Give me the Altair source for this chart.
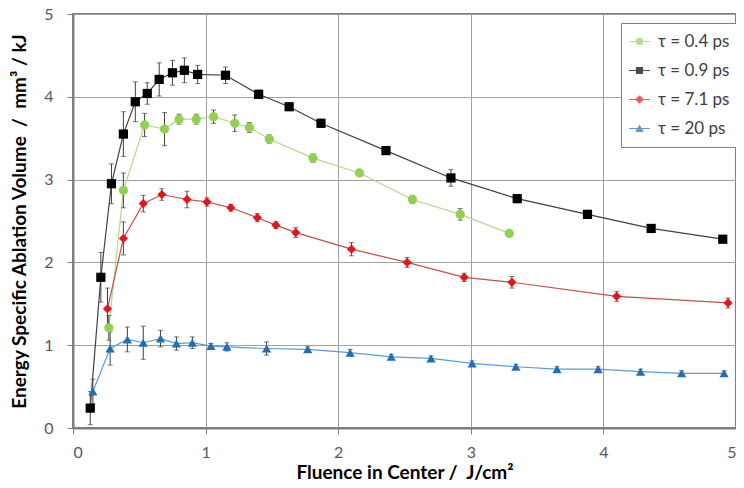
import altair as alt
import pandas as pd

# ---- data ----
series_names = ["τ = 0.4 ps", "τ = 0.9 ps", "τ = 7.1 ps", "τ = 20 ps"]

x04 = [0.27, 0.38, 0.54, 0.69, 0.80, 0.93, 1.06, 1.22, 1.33, 1.48, 1.81, 2.16, 2.56, 2.92, 3.29]
y04 = [1.21, 2.87, 3.66, 3.61, 3.73, 3.73, 3.76, 3.68, 3.63, 3.49, 3.26, 3.08, 2.76, 2.58, 2.35]
e04 = [0.15, 0.21, 0.14, 0.20, 0.06, 0.06, 0.08, 0.10, 0.06, 0.05, 0.05, 0.03, 0.05, 0.07, 0.03]

x09 = [0.13, 0.21, 0.29, 0.38, 0.47, 0.56, 0.65, 0.75, 0.84, 0.94, 1.15, 1.40, 1.63, 1.87, 2.36, 2.85, 3.35, 3.88, 4.36, 4.90]
y09 = [0.24, 1.82, 2.95, 3.55, 3.94, 4.04, 4.21, 4.29, 4.32, 4.27, 4.26, 4.03, 3.88, 3.68, 3.35, 3.02, 2.77, 2.58, 2.41, 2.28]
e09 = [0.20, 0.30, 0.24, 0.27, 0.24, 0.13, 0.20, 0.15, 0.15, 0.11, 0.10, 0.05, 0.04, 0.05, 0.03, 0.10, 0.05, 0.05, 0.03, 0.03]

x71 = [0.26, 0.38, 0.53, 0.67, 0.86, 1.01, 1.19, 1.39, 1.53, 1.68, 2.10, 2.52, 2.95, 3.31, 4.10, 4.94]
y71 = [1.44, 2.29, 2.71, 2.82, 2.76, 2.73, 2.66, 2.54, 2.45, 2.36, 2.16, 2.00, 1.82, 1.76, 1.59, 1.51]
e71 = [0.25, 0.20, 0.10, 0.07, 0.10, 0.05, 0.04, 0.05, 0.04, 0.06, 0.08, 0.06, 0.05, 0.07, 0.06, 0.06]

x20 = [0.15, 0.28, 0.41, 0.53, 0.66, 0.78, 0.90, 1.04, 1.16, 1.46, 1.77, 2.09, 2.40, 2.70, 3.01, 3.34, 3.65, 3.96, 4.28, 4.59, 4.91]
y20 = [0.44, 0.96, 1.07, 1.03, 1.08, 1.02, 1.03, 0.99, 0.98, 0.96, 0.95, 0.91, 0.86, 0.84, 0.78, 0.74, 0.71, 0.71, 0.68, 0.66, 0.66]
e20 = [0.15, 0.20, 0.15, 0.20, 0.10, 0.08, 0.07, 0.03, 0.05, 0.08, 0.03, 0.04, 0.03, 0.03, 0.03, 0.03, 0.03, 0.03, 0.03, 0.03, 0.03]

x_ticks = [0, 1, 2, 3, 4, 5]
y_ticks = [0, 1, 2, 3, 4, 5]

x_title = "Fluence in Center /\u00a0\u00a0J/cm²"
y_title = "Energy Specific Ablation Volume \u00a0/\u00a0\u00a0mm³ / kJ"

# ---- styling ----
marker_colors = ["#92d050", "#000000", "#e3161b", "#1f6fb2"]
line_colors = ["#b4d88f", "#404040", "#c0504d", "#5b9bd5"]
shapes = ["circle", "square", "diamond", "triangle-up"]
legend_paths = [
    "M-2.2,-0.13H-0.8V0.13H-2.2Z M0.8,-0.13H2.2V0.13H0.8Z M0.8,0A0.8,0.8,0,1,1,-0.8,0A0.8,0.8,0,1,1,0.8,0Z",
    "M-2.2,-0.13H2.2V0.13H-2.2Z M-0.75,-0.75H0.75V0.75H-0.75Z",
    "M-2.2,-0.13H2.2V0.13H-2.2Z M0,-0.9L0.9,0L0,0.9L-0.9,0Z",
    "M-2.2,-0.13H2.2V0.13H-2.2Z M0,-0.85L0.9,0.72L-0.9,0.72Z",
]

rows = []
for name, xs, ys, es in zip(series_names, [x04, x09, x71, x20], [y04, y09, y71, y20], [e04, e09, e71, e20]):
    for x, y, e in zip(xs, ys, es):
        rows.append({"series": name, "x": x, "y": y, "lo": y - e, "hi": y + e})
df = pd.DataFrame(rows)

FONT = "Lato"
xs = alt.Scale(domain=[0, 5], nice=False, zero=False)
ys = alt.Scale(domain=[0, 5], nice=False)

X = alt.X("x:Q", scale=xs, axis=alt.Axis(values=x_ticks, title=x_title,
                                          format="d", labelPadding=10, titleY=35, titleBaseline="top"))
Y = alt.Y("y:Q", scale=ys, axis=alt.Axis(values=y_ticks, title=y_title,
                                          format="d", labelPadding=14, titleX=-44, titleBaseline="bottom"))

base = alt.Chart(df)

line_layers = []
point_layers = []
for name, mcol, lcol, shp in zip(series_names, marker_colors, line_colors, shapes):
    sub = base.transform_filter(alt.datum.series == name)
    line_layers.append(
        sub.mark_line(strokeWidth=1.2, color=lcol).encode(x=X, y=Y)
    )
    point_layers.append(
        sub.mark_point(filled=True, size=85, opacity=1, shape=shp, color=mcol)
        .encode(x="x:Q", y="y:Q")
    )

bars = base.mark_rule(color="#404040", strokeWidth=1).encode(
    x="x:Q", y="lo:Q", y2="hi:Q"
)
caps_lo = base.mark_tick(orient="horizontal", color="#404040", size=5, thickness=1).encode(x="x:Q", y="lo:Q")
caps_hi = base.mark_tick(orient="horizontal", color="#404040", size=5, thickness=1).encode(x="x:Q", y="hi:Q")

# legend-only layer: no rows are drawn, the explicit scale domains feed the legend
legend_layer = base.transform_filter("false").mark_point(filled=True, size=90).encode(
    x="x:Q", y="y:Q",
    color=alt.Color("series:N", scale=alt.Scale(domain=series_names, range=marker_colors),
                    legend=alt.Legend(title=None)),
    shape=alt.Shape("series:N", scale=alt.Scale(domain=series_names, range=legend_paths),
                    legend=alt.Legend(title=None)),
)

chart = alt.layer(*line_layers, bars, caps_lo, caps_hi, *point_layers, legend_layer).properties(
    width=663, height=414,
    autosize=alt.AutoSizeParams(type="none"),
    padding={"left": 65, "top": 6, "right": 0, "bottom": 58},
).configure_view(
    stroke="#7f7f7f", strokeWidth=2
).configure_axis(
    labelFont=FONT, labelFontSize=16, labelColor="#595959",
    titleFont=FONT, titleFontSize=19, titleFontWeight="bold", titleColor="#000000",
    domainColor="#7f7f7f", domainWidth=2, tickColor="#7f7f7f", tickSize=6,
    gridColor="#a0a0a0", gridWidth=1,
).configure_legend(
    orient="none", legendX=548, legendY=9,
    labelFont=FONT, labelFontSize=17, labelColor="#404040",
    symbolSize=90, labelOffset=10,
    padding=10, rowPadding=11,
    strokeColor="#808080", fillColor="#ffffff",
)

chart.save("out.html", embed_options={"renderer": "svg", "actions": False})
